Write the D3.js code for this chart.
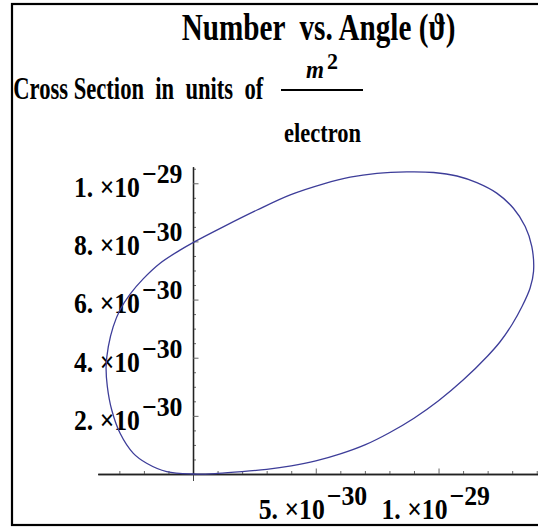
<!DOCTYPE html>
<html lang="en">
<head>
<meta charset="UTF-8">
<title>Number vs. Angle</title>
<script src="https://d3js.org/d3.v7.min.js"></script>
<style>
    html, body { margin: 0; padding: 0; background: #fff; }
    svg { display: block; }
    text {
        font-family: "Liberation Serif", "Times New Roman", serif;
        font-weight: bold;
        fill: #000;
        white-space: pre;
    }
</style>
</head>
<body>
<script>
    // points of the curve, in units of 1e-30
    const curveX = [0, 1, 2, 3, 4, 5, 6, 7, 8, 9, 10, 11, 12, 12.5, 13.0, 13.4, 13.73, 13.87,
        13.80, 13.53, 13.05, 12.37, 11.56, 10.75, 9.8, 8.71, 7.49, 6.40, 5.32, 3.96, 2.61, 1.25, 0,
        -0.53, -1.34, -2.02, -2.57, -2.97, -3.25, -3.45, -3.54, -3.49, -3.31, -2.97, -2.43, -1.89, -1.07];
    const curveY = [0, 0.02, 0.08, 0.16, 0.28, 0.45, 0.69, 1.0, 1.42, 1.92, 2.52, 3.23, 4.06, 4.54, 5.15, 5.76, 6.40, 6.97,
        7.82, 8.51, 9.14, 9.66, 10.02, 10.25, 10.37, 10.39, 10.34, 10.21, 9.98, 9.60, 9.08, 8.51, 7.96,
        7.70, 7.25, 6.72, 6.18, 5.65, 5.07, 4.38, 3.69, 3.01, 2.20, 1.40, 0.71, 0.37, 0.08];

    // tick values and labels
    const yTicks = [2, 4, 6, 8, 10];
    const yMant = ["2.", "4.", "6.", "8.", "1."];
    const yExp = ["\u221230", "\u221230", "\u221230", "\u221230", "\u221229"];
    const xTicks = [5, 10];
    const xMant = ["5.", "1."];
    const xExp = ["\u221230", "\u221229"];

    const w = 538;
    const h = 527;

    const svg = d3.select("body")
        .append("svg")
        .attr("width", w)
        .attr("height", h);

    // frame (its right side falls outside the picture)
    svg.append("rect")
        .attr("x", 12)
        .attr("y", 4)
        .attr("width", 560)
        .attr("height", 521)
        .attr("fill", "none")
        .attr("stroke", "#000")
        .attr("stroke-width", 2.2);

    // scales
    const x = d3.scaleLinear().domain([-3.88, 14.1]).range([97.75, 539.2]);
    const y = d3.scaleLinear().domain([0, 10.57]).range([474, 166.7]);

    // x axis: minor + major ticks pointing up
    const xMinor = d3.range(-3, 15).filter(d => d % 5 !== 0);
    svg.append("g")
        .attr("class", "axis")
        .attr("transform", `translate(0,${y(0)})`)
        .call(d3.axisBottom(x).tickValues(xMinor).tickSize(-3).tickSizeOuter(0).tickFormat(""));
    svg.append("g")
        .attr("class", "axis")
        .attr("transform", `translate(0,${y(0)})`)
        .call(d3.axisBottom(x).tickValues(xTicks).tickSize(-5.5).tickSizeOuter(0).tickFormat(""));

    // y axis: ticks pointing right
    const yMinor = d3.range(0.5, 10.6, 0.5).filter(d => d % 2 !== 0);
    svg.append("g")
        .attr("class", "axis")
        .attr("transform", `translate(${x(0)},0)`)
        .call(d3.axisLeft(y).tickValues(yMinor).tickSize(-3).tickSizeOuter(0).tickFormat(""));
    svg.append("g")
        .attr("class", "axis")
        .attr("transform", `translate(${x(0)},0)`)
        .call(d3.axisLeft(y).tickValues(yTicks).tickSize(-5.5).tickSizeOuter(0).tickFormat(""));
    // little stub of the y axis below the x axis
    svg.append("line")
        .attr("x1", x(0) + 0.5).attr("x2", x(0) + 0.5)
        .attr("y1", y(0)).attr("y2", y(0) + 7)
        .attr("stroke", "#444").attr("stroke-width", 1);

    svg.selectAll(".axis path").attr("stroke", "#222").attr("stroke-width", 1.3);
    svg.selectAll(".axis line").attr("stroke", "#666").attr("stroke-width", 1);

    // text squeezed sideways to a given width (the original type is narrow)
    function txt(str, xx, yy, size, len, italic) {
        const t = svg.append("text")
            .style("font-size", size + "px")
            .style("font-style", italic ? "italic" : "normal")
            .text(str);
        const natural = t.node().getComputedTextLength() || len;
        t.attr("transform", `translate(${xx},${yy}) scale(${len / natural},1)`);
        return t;
    }

    // labels like "1. x10^-29"
    function sciLabel(left, baseY, mant, exp) {
        txt(mant + " \u00d710", left, baseY, 29, 66, false);
        txt(exp, left + 68, baseY - 14, 27, 40.5, false);
    }
    yTicks.forEach((d, i) => sciLabel(74, y(d) + 13.8, yMant[i], yExp[i]));
    xTicks.forEach((d, i) => sciLabel(x(d) - 57, y(0) + 45, xMant[i], xExp[i]));

    // the curve
    const pts = curveX.map((d, i) => [x(d), y(curveY[i])]);
    svg.append("path")
        .attr("d", d3.line().curve(d3.curveCatmullRomClosed)(pts))
        .attr("fill", "none")
        .attr("stroke", "#3d3d99")
        .attr("stroke-width", 1.3);

    // title
    txt("Number  vs. Angle (\u03d1)", 181.7, 39.5, 37, 274, false);

    // units label with the fraction m^2 / electron
    txt("Cross Section  in  units  of", 13.3, 98.5, 32, 250, false);
    txt("m", 306, 78, 26, 18, true);
    txt("2", 327, 69, 23, 11, false);
    svg.append("line")
        .attr("x1", 281).attr("x2", 363)
        .attr("y1", 90).attr("y2", 90)
        .attr("stroke", "#000").attr("stroke-width", 2);
    txt("electron", 284, 142, 27, 77, false);
</script>
</body>
</html>
